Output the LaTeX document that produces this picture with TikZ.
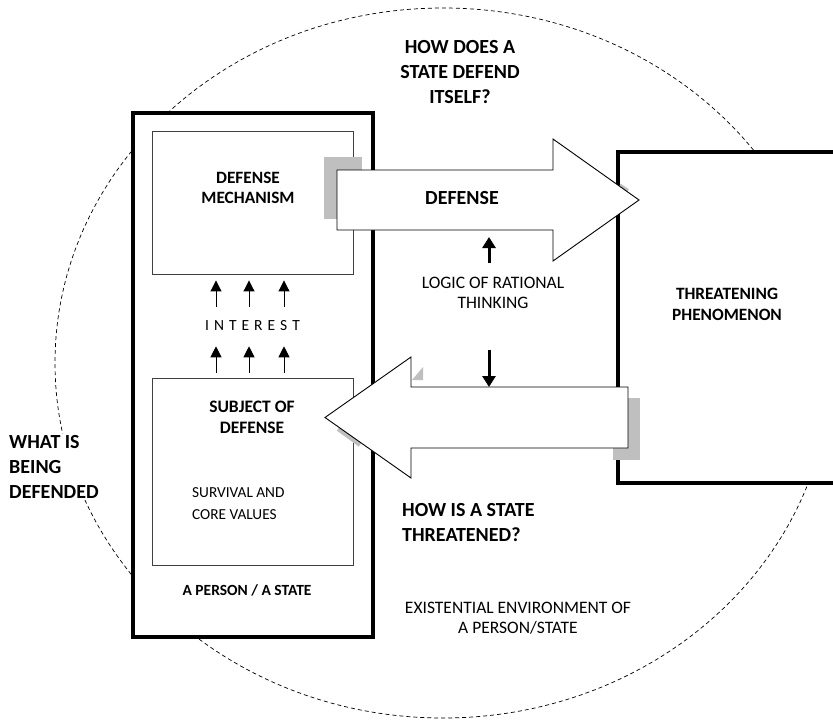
\documentclass[tikz,border=0pt]{standalone}
\usepackage{fontspec}
\setmainfont{Carlito}
\usetikzlibrary{arrows.meta, positioning, calc}

\begin{document}
\begin{tikzpicture}[
  x=1pt, y=-1pt,
  frame/.style={rectangle, draw, line width=3.5pt, fill=white, inner sep=0pt},
  panel/.style={rectangle, draw=black!75, line width=0.9pt, fill=white,
                inner sep=0pt, minimum width=201pt},
  bigarrow/.style={draw, line width=0.9pt, fill=white, line join=miter},
  shade/.style={fill=black!25},
  question/.style={font=\fontsize{20}{25}\selectfont\bfseries, inner sep=1pt},
  heading/.style={font=\fontsize{17.3}{20.5}\selectfont\bfseries, align=center, inner sep=0pt},
  note/.style={font=\fontsize{17.5}{20}\selectfont, align=center, inner sep=0pt},
  thinarr/.style={-{Triangle[width=11pt,length=11pt]}, line width=1pt},
  logicarr/.style={-{Triangle[width=13pt,length=11pt]}, line width=3pt}
]
  \useasboundingbox (0,0) rectangle (833,721);
  \clip (0,0) rectangle (833,721);

  % existential environment
  \draw[dash pattern=on 4pt off 3pt, line width=0.7pt]
    (443,363) ellipse [x radius=388pt, y radius=355pt];

  % boxes
  \node[frame, minimum width=240pt, minimum height=524pt] (person) at (253,375) {};
  \node[frame, minimum width=218pt, minimum height=331pt] (threat) at (727,317.5) {};
  \node[panel, minimum height=143pt] (mech) at (252.5,202.5) {};
  \node[panel, minimum height=187pt] (subj) at (252.5,471.5) {};

  % shadows
  \fill[shade] (324,157) rectangle (362,219);
  \fill[shade] (613,398) rectangle (640,460);
  \fill[shade] (412,380) -- (423,380) -- (423,367) -- cycle;
  \draw[black!25, line width=4pt] (338,429) -- (360,445);
  \draw[black!25, line width=3pt] (620,185) -- (628,190.5);

  % defense and threat
  \draw[bigarrow] (337,170) -- (553,170) -- (553,139) -- (639,200)
    -- (553,261) -- (553,230) -- (337,230) -- cycle;
  \draw[bigarrow] (628,387) -- (411,387) -- (411,357) -- (325,417.5)
    -- (411,478) -- (411,448) -- (628,448) -- cycle;
  \coordinate (defbot) at (489,230);
  \coordinate (thrtop) at (489,387);

  % labels
  \node[font=\fontsize{20}{24}\selectfont\bfseries] (defense) at (462,198) {DEFENSE};
  \node[heading] (mechtext) at (248,188) {DEFENSE\\MECHANISM};
  \node[heading, font=\fontsize{17.5}{21}\selectfont\bfseries] (subjtext) at (252,417.5) {SUBJECT OF\\DEFENSE};
  \node[anchor=west, align=left, inner sep=0pt, font=\fontsize{15.3}{22}\selectfont] (values) at (192,504) {SURVIVAL AND\\CORE VALUES};
  \node[font=\fontsize{15.5}{18}\selectfont\bfseries] (persontext) at (247,590) {A PERSON / A STATE};
  \node[heading] (threattext) at ([yshift=13pt]threat.center) {THREATENING\\PHENOMENON};
  \node[note] (logic) at (493,293) {LOGIC OF RATIONAL\\THINKING};
  \node[note] (env) at (518,618) {EXISTENTIAL ENVIRONMENT OF\\A PERSON/STATE};
  \node[question, align=center] (qdefend) at (460,72) {HOW DOES A\\STATE DEFEND\\ITSELF?};
  \node[question, align=left, anchor=west] (qthreat) at (401,523) {HOW IS A STATE\\THREATENED?};
  \node[question, align=left, anchor=west, fill=white] (qwhat) at (8,467) {WHAT IS\\BEING\\DEFENDED};
  \node[inner sep=0pt, font=\fontsize{15.5}{18}\selectfont] (interest) at ($(mech.south)!0.5!(subj.north)$)
    {I\hspace{5pt}N\hspace{5pt}T\hspace{5pt}E\hspace{5pt}R\hspace{5pt}E\hspace{5pt}S\hspace{5pt}T};

  % interest arrows
  \foreach \dx in {-36.5,-3.5,31.5} {
    \draw[thinarr, shorten <=14pt, shorten >=6pt] ([xshift=\dx pt]interest.north) -- ([xshift=\dx pt]mech.south);
    \draw[thinarr, shorten <=5pt, shorten >=15pt] ([xshift=\dx pt]subj.north) -- ([xshift=\dx pt]interest.south);
  }

  % logic arrows
  \draw[logicarr, shorten <=13.7pt, shorten >=7pt] (defbot |- logic.north) -- (defbot);
  \draw[logicarr, shorten <=40.7pt] (thrtop |- logic.south) -- (thrtop);
\end{tikzpicture}
\end{document}
